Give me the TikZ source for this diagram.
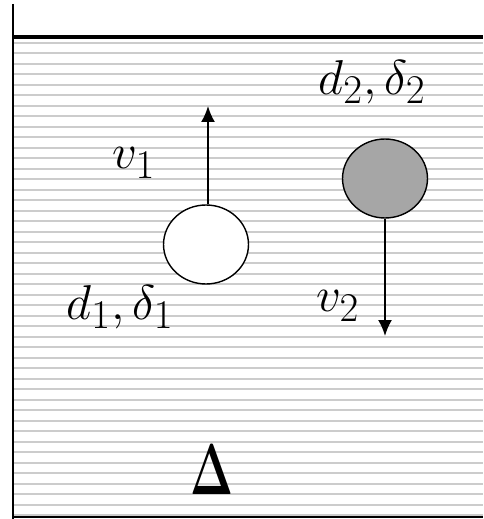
\documentclass[tikz,border=0pt]{standalone}
\usetikzlibrary{shapes.geometric,arrows.meta}
\tikzset{
  wall/.style={line width=1.6pt, draw=black, line cap=butt},
  stripe/.style={line width=1.0pt, draw=black!20},
  ball/.style={ellipse, draw=black, line width=0.8pt, minimum width=1.7cm, minimum height=1.58cm, inner sep=0pt},
  vel/.style={line width=1.1pt, draw=black, -{Latex[length=0.32cm, width=0.28cm]}},
  qlabel/.style={font=\Huge, inner sep=0pt, scale=1.12, transform shape},
}

\begin{document}
\begin{tikzpicture}[x=0.02cm, y=-0.02cm]
\useasboundingbox (0,0) rectangle (483,519);
\foreach \k in {0,...,45}
  \draw[stripe] (14,42.7+10.5*\k) -- (483,42.7+10.5*\k);
\draw[wall] (13,4) -- (13,518.5);
\draw[wall, line width=2.1pt] (12,37) -- (483,37);
\draw[wall] (12,517) -- (483,517);
\node[ball, fill=white] (ball1) at (206,244.5) {};
\node[ball, fill=black!35] (ball2) at (385,178.5) {};
\coordinate (tip1) at (208,106);
\coordinate (tip2) at (385,336);
\draw[vel] (ball1.north -| tip1) -- (tip1);
\draw[vel] (ball2.south) -- (tip2);
\node[qlabel] (v1) at (134,163) {$v_1$};
\node[qlabel] (v2) at (338,306) {$v_2$};
\node[qlabel] (dd1) at (120,307) {$d_1,\delta_1$};
\node[qlabel] (dd2) at (372,82) {$d_2,\delta_2$};
\node[font=\Huge, inner sep=0pt, xscale=1.05, yscale=1.65, transform shape] (medium) at (212,470) {$\mathbf{\Delta}$};
\end{tikzpicture}
\end{document}
